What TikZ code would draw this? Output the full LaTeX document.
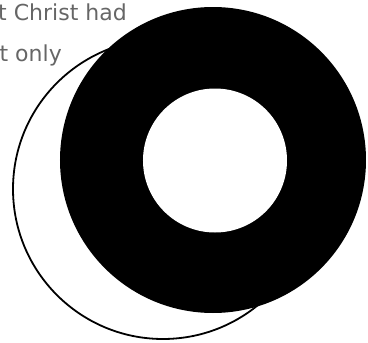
\documentclass[tikz,border=0pt]{standalone}
\usepackage{fontspec}
\setmainfont{DejaVu Sans}
\tikzset{
    caption/.style={text=black!60,font=\fontsize{22}{26}\selectfont,inner sep=0pt},
    rim/.style={draw=black,line width=1.8pt},
    ring/.style={fill=black}
}

\begin{document}
\begin{tikzpicture}[x=1pt,y=-1pt]
    \useasboundingbox (0,0) rectangle (368,343);
    \clip (0,0) rectangle (368,343);
    % text cut off at the left edge
    \node[caption,anchor=base east] (lineone) at (127,20) {t Christ had};
    \node[caption,anchor=base east] (linetwo) at (62,61) {t only};
    % thin circle behind the ring
    \draw[rim] (163,189) circle[radius=150];
    % black ring with white hole
    \fill[ring] (213,160) circle[radius=153];
    \fill[white] (215,160.5) circle[radius=72];
\end{tikzpicture}
\end{document}
